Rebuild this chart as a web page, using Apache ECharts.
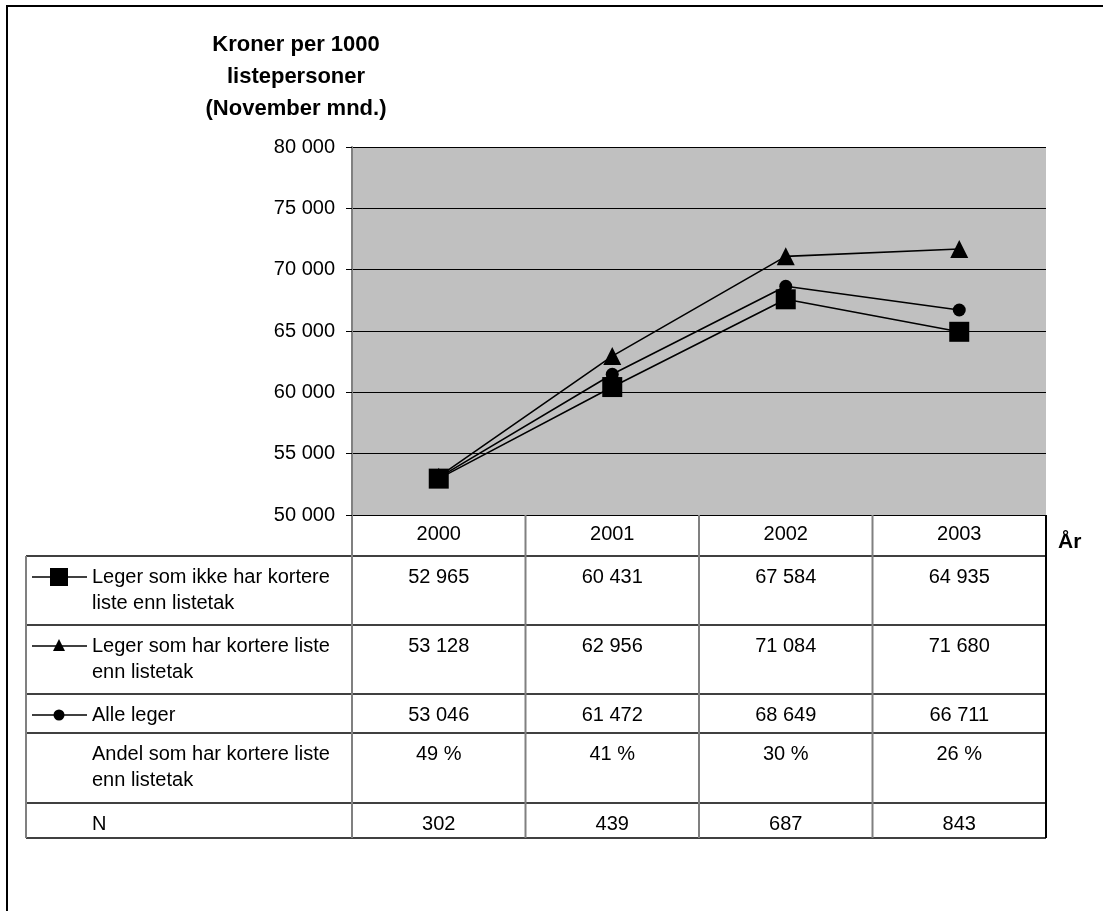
<!DOCTYPE html>
<html>
<head>
<meta charset="utf-8">
<script src="https://cdn.jsdelivr.net/npm/echarts@6/dist/echarts.min.js"></script>
<style>
  html, body { margin: 0; padding: 0; background: #fff; }
  #chart { width: 1103px; height: 911px; }
</style>
</head>
<body>
<div id="chart"></div>
<script>
// Years shown along the category axis and in the table header
const years = ['2000', '2001', '2002', '2003'];

// Series names (table row labels)
const nameIkke = 'Leger som ikke har kortere liste enn listetak';
const nameKortere = 'Leger som har kortere liste enn listetak';
const nameAlle = 'Alle leger';

// Kroner per 1000 listepersoner, November
const ikkeKortere = [52965, 60431, 67584, 64935];
const harKortere = [53128, 62956, 71084, 71680];
const alleLeger = [53046, 61472, 68649, 66711];

// Extra table rows
const andelKortere = [49, 41, 30, 26];
const antallN = [302, 439, 687, 843];

// Value axis range
const yMin = 50000, yMax = 80000, yStep = 5000;

const FONT = '"Liberation Sans", Arial, sans-serif';

function fmt(n) {
  return String(n).replace(/\B(?=(\d{3})+(?!\d))/g, ' ');
}

// Plot area box
const PL = 352, PT = 147, PR = 1046, PB = 515;
// Table geometry
const TL = 26;
const rowEdges = [515, 556, 625, 694, 733, 803, 838];

const chart = echarts.init(document.getElementById('chart'), null, { renderer: 'canvas' });

const lineStyle = { color: '#000', width: 1.6 };

chart.setOption({
  animation: false,
  backgroundColor: '#fff',
  grid: {
    left: PL, top: PT, width: PR - PL, height: PB - PT,
    show: true, backgroundColor: '#c0c0c0', borderWidth: 0
  },
  xAxis: {
    type: 'category',
    data: years,
    boundaryGap: true,
    axisLine: { show: false },
    axisTick: { show: false },
    axisLabel: { show: true, margin: 9, color: '#000', fontFamily: FONT, fontSize: 20 },
    splitLine: { show: false }
  },
  yAxis: {
    type: 'value',
    min: yMin, max: yMax, interval: yStep,
    axisLine: { show: true, lineStyle: { color: '#808080', width: 2 } },
    axisTick: { show: true, length: 6, lineStyle: { color: '#000', width: 1 } },
    axisLabel: {
      color: '#000', fontFamily: FONT, fontSize: 20, margin: 17,
      formatter: v => fmt(v)
    },
    splitLine: { show: true, lineStyle: { color: '#000', width: 1 } }
  },
  series: [
    {
      name: nameKortere, type: 'line', data: harKortere,
      symbol: 'triangle', symbolSize: 18, showAllSymbol: true,
      itemStyle: { color: '#000' }, lineStyle: lineStyle, z: 3
    },
    {
      name: nameAlle, type: 'line', data: alleLeger,
      symbol: 'circle', symbolSize: 13, showAllSymbol: true,
      itemStyle: { color: '#000' }, lineStyle: lineStyle, z: 4
    },
    {
      name: nameIkke, type: 'line', data: ikkeKortere,
      symbol: 'rect', symbolSize: 20, showAllSymbol: true,
      itemStyle: { color: '#000' }, lineStyle: lineStyle, z: 5
    }
  ]
});

// Table below the plot, built from the same arrays
const colCenters = years.map(y => chart.convertToPixel({ xAxisIndex: 0 }, y));
const colEdges = [PL];
for (let i = 0; i < years.length; i++) {
  const half = (colCenters[1] - colCenters[0]) / 2;
  colEdges.push(colCenters[i] + half);
}

const graphics = [];
const LH = 26;

// Outer frame
graphics.push({
  type: 'rect', shape: { x: 7, y: 6, width: 1200, height: 1000 },
  style: { fill: null, stroke: '#000', lineWidth: 2 }, silent: true, z: 0
});

// Title (value axis name)
['Kroner per 1000', 'listepersoner', '(November mnd.)'].forEach((t, i) => {
  graphics.push({
    type: 'text', x: 296, y: 45 + i * 32,
    style: { text: t, font: 'bold 22px ' + FONT, fill: '#000', align: 'center', verticalAlign: 'middle' }
  });
});

// "År" label
graphics.push({
  type: 'text', x: 1058, y: 542,
  style: { text: 'År', font: 'bold 21px ' + FONT, fill: '#000', align: 'left', verticalAlign: 'middle' }
});

// Horizontal rules of the table
for (let i = 1; i < rowEdges.length; i++) {
  graphics.push({
    type: 'line', shape: { x1: TL, y1: rowEdges[i], x2: PR, y2: rowEdges[i] },
    style: { stroke: '#000', lineWidth: 1.5 }, silent: true
  });
}
// Vertical rules
colEdges.forEach((x, i) => {
  graphics.push({
    type: 'line', shape: { x1: x, y1: PB, x2: x, y2: rowEdges[rowEdges.length - 1] },
    style: { stroke: i === colEdges.length - 1 ? '#000' : '#808080', lineWidth: 2 }, silent: true
  });
});
graphics.push({
  type: 'line', shape: { x1: TL, y1: rowEdges[1], x2: TL, y2: rowEdges[rowEdges.length - 1] },
  style: { stroke: '#808080', lineWidth: 2 }, silent: true
});

// Row content
const rows = [
  { label: ['Leger som ikke har kortere', 'liste enn listetak'], values: ikkeKortere.map(fmt), symbol: 'square' },
  { label: ['Leger som har kortere liste', 'enn listetak'], values: harKortere.map(fmt), symbol: 'triangle' },
  { label: ['Alle leger'], values: alleLeger.map(fmt), symbol: 'circle' },
  { label: ['Andel som har kortere liste', 'enn listetak'], values: andelKortere.map(v => v + ' %'), symbol: null },
  { label: ['N'], values: antallN.map(String), symbol: null }
];

rows.forEach((r, ri) => {
  const top = rowEdges[ri + 1];
  const y0 = top + 21;
  r.label.forEach((t, li) => {
    graphics.push({
      type: 'text', x: 92, y: y0 + li * LH,
      style: { text: t, font: '20px ' + FONT, fill: '#000', align: 'left', verticalAlign: 'middle' }
    });
  });
  r.values.forEach((v, ci) => {
    graphics.push({
      type: 'text', x: colCenters[ci], y: y0,
      style: { text: v, font: '20px ' + FONT, fill: '#000', align: 'center', verticalAlign: 'middle' }
    });
  });
  if (r.symbol) {
    const cx = 59, cy = y0;
    graphics.push({
      type: 'line', shape: { x1: 32, y1: cy, x2: 87, y2: cy },
      style: { stroke: '#000', lineWidth: 1.5 }, silent: true
    });
    if (r.symbol === 'square') {
      graphics.push({ type: 'rect', shape: { x: cx - 9, y: cy - 9, width: 18, height: 18 }, style: { fill: '#000' } });
    } else if (r.symbol === 'triangle') {
      graphics.push({ type: 'polygon', shape: { points: [[cx, cy - 7], [cx + 6, cy + 5], [cx - 6, cy + 5]] }, style: { fill: '#000' } });
    } else {
      graphics.push({ type: 'circle', shape: { cx: cx, cy: cy, r: 5.5 }, style: { fill: '#000' } });
    }
  }
});

chart.setOption({ graphic: graphics });
</script>
</body>
</html>
